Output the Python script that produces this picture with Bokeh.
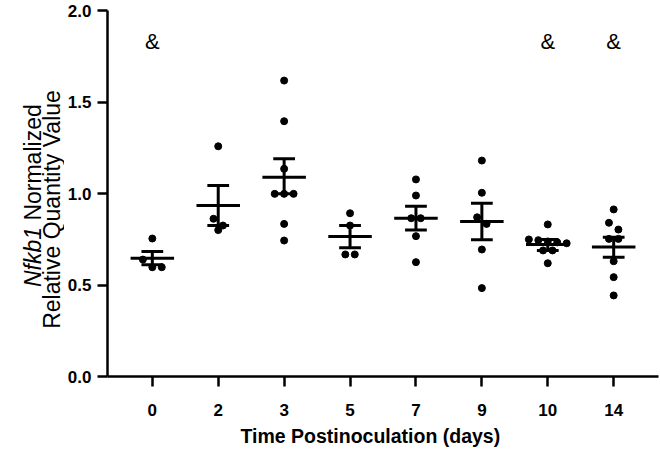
import numpy as np
from bokeh.plotting import figure
from bokeh.layouts import row
from bokeh.models import FixedTicker, Range1d, NumeralTickFormatter, Title
from bokeh.core.properties import value
from bokeh.embed import file_html
from bokeh.resources import INLINE

# ---------------- data ----------------
days = ["0", "2", "3", "5", "7", "9", "10", "14"]
d0 = [0.754, 0.639, 0.597, 0.597]
d2 = [1.258, 0.862, 0.825, 0.800]
d3 = [1.617, 1.395, 1.135, 0.998, 0.998, 0.998, 0.834, 0.743]
d5 = [0.892, 0.825, 0.667, 0.667]
d7 = [1.077, 0.989, 0.865, 0.865, 0.767, 0.625]
d9 = [1.180, 1.004, 0.870, 0.834, 0.694, 0.483]
d10 = [0.831, 0.749, 0.745, 0.738, 0.733, 0.728, 0.689, 0.689, 0.619]
d14 = [0.913, 0.840, 0.803, 0.752, 0.752, 0.630, 0.543, 0.443]
groups = [d0, d2, d3, d5, d7, d9, d10, d14]
means = [0.646, 0.934, 1.089, 0.765, 0.865, 0.847, 0.721, 0.707]
sem_hi = [0.683, 1.044, 1.190, 0.825, 0.931, 0.947, 0.749, 0.761]
sem_lo = [0.610, 0.825, 0.998, 0.703, 0.800, 0.747, 0.689, 0.652]
marked_days = ["0", "10", "14"]
mark_text = "&"
mark_level = 1.83
y_ticks = [0.0, 0.5, 1.0, 1.5, 2.0]
ytitle_gene = "Nfkb1"
ytitle_rest1 = "Normalized"
ytitle_line2 = "Relative Quantity Value"
xtitle = "Time Postinoculation (days)"

FONT = "Liberation Sans"

# ---------------- layout ----------------
TOTAL_W, TOTAL_H = 660, 453
TW = 64                       # width of the strip holding the y title
W = TOTAL_W - TW
LEFT, RIGHT, TOP, BOTTOM = 40, 2, 10, 77
FRAME_W = W - LEFT - RIGHT
FRAME_H = TOTAL_H - TOP - BOTTOM
x_lo, x_hi = -0.68, len(days) - 1 + 0.68
y_lo, y_hi = 0.0, 2.0
px_x = FRAME_W / (x_hi - x_lo)
px_y = FRAME_H / (y_hi - y_lo)

p = figure(width=W, height=TOTAL_H, output_backend="svg", toolbar_location=None,
           x_range=Range1d(x_lo, x_hi), y_range=Range1d(y_lo, y_hi),
           min_border_left=LEFT, min_border_right=RIGHT,
           min_border_top=TOP, min_border_bottom=BOTTOM)
p.outline_line_color = None
p.grid.visible = False
p.background_fill_color = "white"
p.border_fill_color = "white"


def swarm(vals, thresh=8.0, step=9.5):
    order = sorted(range(len(vals)), key=lambda i: -vals[i])
    offs = [0.0] * len(vals)
    rows, row_ = [], []
    for i in order:
        if row_ and (vals[row_[0]] - vals[i]) * px_y < thresh:
            row_.append(i)
        else:
            if row_:
                rows.append(row_)
            row_ = [i]
    rows.append(row_)
    for r in rows:
        n = len(r)
        for k, i in enumerate(r):
            offs[i] = (k - (n - 1) / 2) * step / px_x
    return offs


xs, ys = [], []
for gi, vals in enumerate(groups):
    offs = swarm(vals)
    xs += [gi + o for o in offs]
    ys += list(vals)

p.scatter(xs, ys, size=7, color="black", line_color="black")

idx = list(range(len(days)))
mean_half = 0.33
cap_half = 0.165
lw = 3
p.segment(x0=[i - mean_half for i in idx], x1=[i + mean_half for i in idx],
          y0=means, y1=means, line_color="black", line_width=lw)
p.segment(x0=idx, x1=idx, y0=sem_lo, y1=sem_hi, line_color="black", line_width=lw)
p.segment(x0=[i - cap_half for i in idx], x1=[i + cap_half for i in idx],
          y0=sem_hi, y1=sem_hi, line_color="black", line_width=lw)
p.segment(x0=[i - cap_half for i in idx], x1=[i + cap_half for i in idx],
          y0=sem_lo, y1=sem_lo, line_color="black", line_width=lw)

mx = [days.index(d) for d in marked_days]
p.text(x=mx, y=[mark_level] * len(mx), text=[mark_text] * len(mx),
       text_align="center", text_baseline="middle",
       text_font=value(FONT), text_font_size="22px", text_color="black")

# axes
for ax in (p.xaxis[0], p.yaxis[0]):
    ax.axis_line_width = 2.5
    ax.axis_line_color = "black"
    ax.major_tick_line_width = 2.5
    ax.major_tick_line_color = "black"
    ax.major_tick_in = 0
    ax.major_tick_out = 10
    ax.minor_tick_line_color = None
    ax.major_label_text_font = FONT
    ax.major_label_text_font_style = "bold"
    ax.major_label_text_font_size = "17px"
    ax.major_label_text_color = "black"

p.xaxis.ticker = FixedTicker(ticks=idx)
p.xaxis.major_label_overrides = {i: d for i, d in enumerate(days)}
p.xaxis.major_label_standoff = 17

p.yaxis.ticker = FixedTicker(ticks=y_ticks)
p.yaxis.formatter = NumeralTickFormatter(format="0.0")
p.yaxis.major_label_standoff = 6

# x title as a left-aligned title below the axis (reference sits left of centre)
p.add_layout(Title(text=xtitle, align="left", offset=133, standoff=8,
                   vertical_align="bottom", text_font=FONT,
                   text_font_style="bold", text_font_size="19.5px",
                   text_color="black"), "below")

# ---------------- y title strip ----------------
# In a row the plot frames are aligned, so the strip's frame spans the same
# vertical pixels as the main frame; map its y range to page pixels (up = +).
t = figure(width=TW, height=TOTAL_H, output_backend="svg", toolbar_location=None,
           x_range=Range1d(0, TW), y_range=Range1d(BOTTOM, TOTAL_H - TOP),
           x_axis_location=None, y_axis_location=None,
           min_border=0, min_border_left=0, min_border_right=0,
           min_border_top=0, min_border_bottom=0)
t.outline_line_color = None
t.grid.visible = False
t.background_fill_color = "white"
t.border_fill_color = "white"

TS = "23px"
line1_x, line2_x = 32, 51
junction_y = TOTAL_H - 226.5
line2_y = TOTAL_H - 209
t.text(x=[line1_x], y=[junction_y], text=[ytitle_gene], angle=np.pi / 2,
       text_align="right", text_baseline="middle", text_font=value(FONT),
       text_font_style="italic", text_font_size=TS, text_color="black")
t.text(x=[line1_x], y=[junction_y + 6.4], text=[ytitle_rest1], angle=np.pi / 2,
       text_align="left", text_baseline="middle", text_font=value(FONT),
       text_font_style="normal", text_font_size=TS, text_color="black")
t.text(x=[line2_x], y=[line2_y], text=[ytitle_line2], angle=np.pi / 2,
       text_align="center", text_baseline="middle", text_font=value(FONT),
       text_font_style="normal", text_font_size=TS, text_color="black")

layout = row(t, p)
open("out.html", "w").write(file_html(layout, INLINE))
